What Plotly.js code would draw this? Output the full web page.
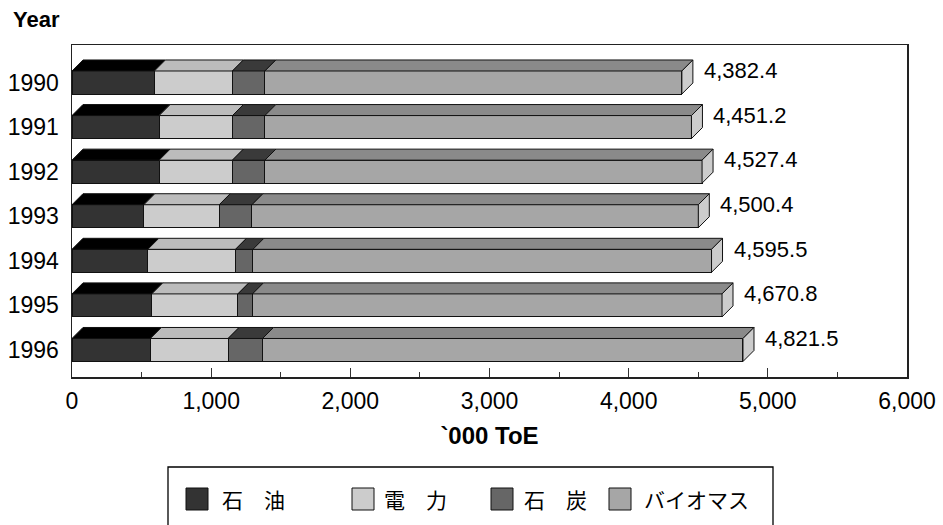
<!DOCTYPE html>
<html><head><meta charset="utf-8">
<script src="https://cdn.plot.ly/plotly-3.0.1.min.js"></script>
<style>html,body{margin:0;padding:0;background:#fff}#chart{width:943px;height:525px}</style>
</head><body><div id="chart"></div>
<script>
// ---- data ----
const years = ['1990', '1991', '1992', '1993', '1994', '1995', '1996'];
const seriesNames = ['石　油', '電　力', '石　炭', 'バイオマス'];
const oil = [592, 626, 626, 516, 545, 573, 563];
const electricity = [561, 527, 527, 542, 630, 619, 559];
const coal = [233, 233, 233, 235, 125, 105, 247];
const biomass = [2996.4, 3065.2, 3141.4, 3207.4, 3295.5, 3373.8, 3452.5];
const totals = [4382.4, 4451.2, 4527.4, 4500.4, 4595.5, 4670.8, 4821.5];
const xTickVals = [0, 1000, 2000, 3000, 4000, 5000, 6000];
const xTickText = ['0', '1,000', '2,000', '3,000', '4,000', '5,000', '6,000'];

// ---- styles ----
const frontColors = ['#333333', '#cccccc', '#666666', '#a6a6a6'];
const topColors = ['#000000', '#bcbcbc', '#3a3a3a', '#8a8a8a'];
const sideColor = '#cccccc';
const edge = '#111111';
const FONT = 'Liberation Sans, Arial, sans-serif';
const CJK = 'Noto Sans CJK JP, sans-serif';

const W = 943, H = 525;
const M = {l: 72, r: 36, t: 45, b: 148};
const PW = W - M.l - M.r, PH = H - M.t - M.b;
const barW = 0.516;          // bar thickness in category units
const depthX = 79;           // 3-D depth, x data units (~11px)
const depthY = 0.247;        // 3-D depth, category units (~11px)

const series = [oil, electricity, coal, biomass];
const yIdx = years.map((_, i) => i);

const traces = series.map((vals, k) => ({
  type: 'bar', orientation: 'h', name: seriesNames[k],
  x: vals, y: yIdx, width: barW,
  marker: {color: frontColors[k], line: {color: edge, width: 1}},
  hoverinfo: 'x+name', showlegend: false
}));

const shapes = [];
yIdx.forEach(i => {
  const yTop = i - barW / 2, yBot = i + barW / 2;
  let cum = 0;
  series.forEach((vals, k) => {
    const x0 = cum, x1 = cum + vals[i];
    shapes.push({
      type: 'path', xref: 'x', yref: 'y', layer: 'above',
      path: `M${x0},${yTop} L${x1},${yTop} L${x1 + depthX},${yTop - depthY} L${x0 + depthX},${yTop - depthY} Z`,
      fillcolor: topColors[k], line: {color: edge, width: 1}
    });
    cum = x1;
  });
  shapes.push({
    type: 'path', xref: 'x', yref: 'y', layer: 'above',
    path: `M${cum},${yTop} L${cum + depthX},${yTop - depthY} L${cum + depthX},${yBot - depthY} L${cum},${yBot} Z`,
    fillcolor: sideColor, line: {color: edge, width: 1}
  });
});

const annotations = yIdx.map(i => ({
  x: totals[i], y: i - 0.265, xref: 'x', yref: 'y',
  text: totals[i].toLocaleString('en-US', {minimumFractionDigits: 1, maximumFractionDigits: 1}),
  showarrow: false, xanchor: 'left', yanchor: 'middle', xshift: 20,
  font: {family: FONT, size: 22, color: '#000'}
}));

// "Year" label
const px2x = px => (px - M.l) / PW;
const px2y = py => (H - M.b - py) / PH;
annotations.push({
  xref: 'paper', yref: 'paper', x: px2x(11), y: px2y(20),
  xanchor: 'left', yanchor: 'middle', showarrow: false,
  text: '<b>Year</b>', font: {family: FONT, size: 22, color: '#000'}
});

// legend (box, swatches, labels)
const legendBox = {x0: 168, x1: 773, y0: 467, y1: 540};
const swatchX = [186, 352, 491, 609];
const labelX = [220, 382, 522, 642];
const legendCY = 499;
const sw = 22;
shapes.push({
  type: 'rect', xref: 'paper', yref: 'paper',
  x0: px2x(legendBox.x0), x1: px2x(legendBox.x1), y0: px2y(legendBox.y0), y1: px2y(legendBox.y1),
  line: {color: '#000', width: 1.3}, fillcolor: 'rgba(0,0,0,0)'
});
seriesNames.forEach((name, k) => {
  shapes.push({
    type: 'rect', xref: 'paper', yref: 'paper',
    x0: px2x(swatchX[k]), x1: px2x(swatchX[k] + sw),
    y0: px2y(legendCY - sw / 2), y1: px2y(legendCY + sw / 2),
    fillcolor: frontColors[k], line: {color: edge, width: 1}
  });
  annotations.push({
    xref: 'paper', yref: 'paper', x: px2x(labelX[k]), y: px2y(legendCY),
    xanchor: 'left', yanchor: 'middle', showarrow: false,
    text: name, font: {family: CJK, size: 21, color: '#000'}
  });
});

const layout = {
  width: W, height: H, margin: M,
  paper_bgcolor: '#fff', plot_bgcolor: '#fff',
  barmode: 'stack', showlegend: false,
  font: {family: FONT, size: 22, color: '#000'},
  xaxis: {
    range: [0, 6000], tickvals: xTickVals, ticktext: xTickText,
    ticks: 'inside', ticklen: 9, tickcolor: '#333', tickwidth: 1,
    minor: {dtick: 500, ticks: 'inside', ticklen: 5, tickcolor: '#333', tickwidth: 1},
    showline: true, mirror: true, linecolor: '#222', linewidth: 1.5,
    showgrid: false, zeroline: false, ticklabelstandoff: 3,
    tickfont: {family: FONT, size: 23, color: '#000'},
    title: {text: '<b>`000 ToE</b>', font: {family: FONT, size: 24, color: '#000'}, standoff: 14}
  },
  yaxis: {
    range: [6.606, -0.841], tickvals: yIdx, ticktext: years,
    ticks: '', showline: true, mirror: true, linecolor: '#222', linewidth: 1.5,
    showgrid: false, zeroline: false, ticklabelstandoff: 7,
    tickfont: {family: FONT, size: 23, color: '#000'}
  },
  shapes: shapes, annotations: annotations
};

Plotly.newPlot('chart', traces, layout, {displayModeBar: false, staticPlot: true});
</script></body></html>
